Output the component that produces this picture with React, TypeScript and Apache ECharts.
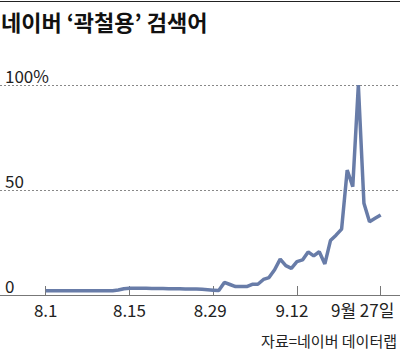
import React, { useEffect, useRef } from "react";
import * as echarts from "echarts";

const TITLE = "네이버 ‘곽철용’ 검색어";
const SOURCE = "자료=네이버 데이터랩";

// Search-interest index (peak = 100), one value per point
const values: number[] = [
  2.0, 2.0, 2.0, 2.0, 2.0, 2.0, 2.0, 2.0, 2.0, 2.0,
  2.0, 2.0, 2.0, 2.4, 3.0, 3.2, 3.2, 3.2, 3.2, 3.1,
  3.1, 3.1, 3.0, 3.0, 3.0, 2.9, 2.9, 2.8, 2.7, 2.5,
  2.3, 2.1, 6.0, 5.0, 4.0, 4.0, 4.0, 5.1, 5.1, 7.4,
  8.3, 12.0, 17.1, 14.0, 12.7, 15.9, 16.7, 20.5, 18.6, 20.6,
  14.8, 25.9, 28.5, 31.4, 59.5, 51.6, 100, 43.7, 34.9, 36.5,
  38.1,
];

const tickPoints: number[] = [0, 15, 30, 45, 60];
const tickLabels: string[] = ["8.1", "8.15", "8.29", "9.12", "9월 27일"];
const tickRich: string[] = ["a", "a", "c", "b", "d"];

const yTicks: number[] = [0, 50, 100];

const FONT = '"Noto Sans CJK KR", "Noto Sans", sans-serif';

export default function App() {
  const ref = useRef<HTMLDivElement>(null);
  useEffect(() => {
    if (!ref.current) return;
    const chart = echarts.init(ref.current, null, { renderer: "svg" });
    chart.setOption({
      animation: false,
      backgroundColor: "#ffffff",
      textStyle: { fontFamily: FONT },
      title: [
        {
          text: TITLE,
          left: 1,
          top: 10,
          padding: 0,
          textStyle: { fontFamily: FONT, fontSize: 22, fontWeight: "bold", color: "#111" },
        },
        {
          text: SOURCE,
          right: 3,
          top: 333,
          padding: 0,
          textStyle: { fontFamily: FONT, fontSize: 15, fontWeight: "normal", color: "#222" },
        },
      ],
      graphic: [
        {
          type: "line",
          shape: { x1: 0, y1: 1.5, x2: 400, y2: 1.5 },
          style: { stroke: "#222", lineWidth: 1.2 },
        },
      ],
      grid: { left: 0, right: 0, top: 85, bottom: 58, containLabel: false },
      xAxis: {
        type: "value",
        min: -8.19,
        max: 63.46,
        splitLine: { show: false },
        axisLine: { show: true, lineStyle: { color: "#777", width: 1 } },
        axisTick: {
          show: true,
          inside: true,
          length: 9,
          customValues: tickPoints,
          lineStyle: { color: "#777", width: 1 },
        },
        axisLabel: {
          customValues: tickPoints,
          margin: 6,
          fontSize: 17,
          color: "#222",
          fontFamily: FONT,
          formatter: (v: number) => {
            const i = tickPoints.indexOf(v);
            return i >= 0 ? `{${tickRich[i]}|${tickLabels[i]}}` : "";
          },
          rich: {
            a: { fontSize: 17, color: "#222", fontFamily: FONT },
            b: { fontSize: 17, color: "#222", fontFamily: FONT, padding: [0, 10, 0, 0] },
            c: { fontSize: 17, color: "#222", fontFamily: FONT, padding: [0, 6, 0, 0] },
            d: { fontSize: 17, color: "#222", fontFamily: FONT, padding: [0, 36, 0, 0] },
          },
        },
      },
      yAxis: {
        type: "value",
        min: 0,
        max: 100,
        interval: 50,
        axisLine: { show: false },
        axisTick: { show: false },
        splitLine: {
          show: true,
          lineStyle: { color: "#888", type: [2, 2], width: 1 },
        },
        axisLabel: {
          inside: true,
          margin: 5,
          fontSize: 17,
          color: "#222",
          fontFamily: FONT,
          verticalAlign: "bottom",
          padding: [0, 0, 1, 0],
          formatter: (v: number) => (v === yTicks[yTicks.length - 1] ? `${v}%` : `${v}`),
        },
      },
      series: [
        {
          type: "line",
          data: values.map((v, i) => [i, v]),
          showSymbol: false,
          lineStyle: { color: "#687ca8", width: 3.5, join: "bevel" },
          itemStyle: { color: "#687ca8" },
          z: 3,
        },
      ],
    });
    return () => chart.dispose();
  }, []);
  return (
    <div
      ref={ref}
      style={{ position: "absolute", left: 0, top: 0, width: 400, height: 353 }}
    />
  );
}
